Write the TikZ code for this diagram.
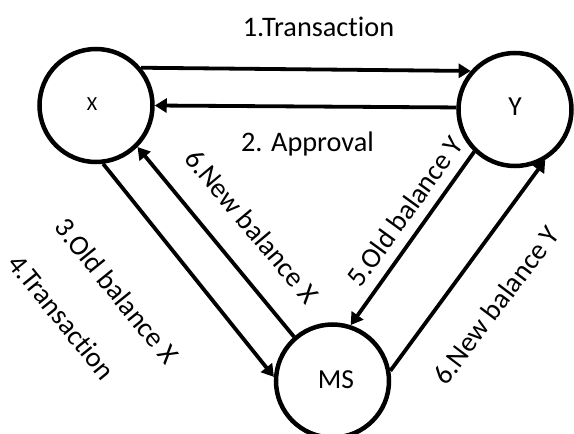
\documentclass[tikz,border=0pt]{standalone}
\usepackage{fontspec}
\setmainfont{Carlito}[Ligatures={NoCommon}]
\usetikzlibrary{arrows.meta}
\begin{document}
\begin{tikzpicture}[x=1pt,y=-1pt,
  state/.style={circle,draw,line width=4.5pt,minimum size=113pt,inner sep=0pt,font=\fontsize{27.5}{32}\selectfont},
  conn/.style={line width=3.8pt,-{Triangle[length=12pt,width=14pt]}},
  lbl/.style={font=\fontsize{28.3}{32}\selectfont,inner sep=0pt}]
\useasboundingbox (0,0) rectangle (574,434);
\node[state,font=\fontsize{20}{24}\selectfont] (X) at (96,105.5) {\raisebox{3pt}{X}\hspace*{8pt}};
\node[state] (Y) at (515,109.5) {\raisebox{5pt}{Y}};
\node[state] (MS) at (332.5,381) {\hspace*{7pt}\raisebox{3pt}{MS}};
% connectors
\draw[conn] (X.40) -- (Y.139);
\draw[conn] (Y.178) -- (X.0);
\draw[conn] (X.-83) -- (MS.176);
\draw[conn] (MS.131) -- (X.-45);
\draw[conn] (Y.-134) -- (MS.72);
\draw[conn] (MS.10) -- (Y.-59);
% labels
\node[lbl,anchor=base] (t1) at (318.5,36) {1.Transaction};
\node[lbl,anchor=base] (t2) at (307.5,151) {2. Approval};
\node[lbl,rotate=-51] (t3) at (117,291) {3.Old balance X};
\node[lbl,rotate=-51] (t4) at (62,317) {4.Transaction};
\node[lbl,rotate=-50] (t6x) at (252,226) {6.New balance X};
\node[lbl,rotate=54] (t5) at (405,211) {5.Old balance Y};
\node[lbl,rotate=53] (t6y) at (496,305) {6.New balance Y};
\end{tikzpicture}
\end{document}
